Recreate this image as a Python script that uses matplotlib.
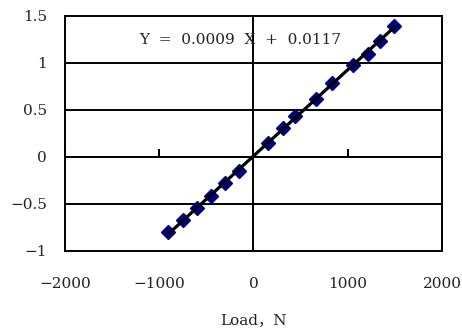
import numpy as np
import matplotlib.pyplot as plt

# load (N) and reading, picked off the chart
load = [-905, -750, -595, -450, -300, -150, 155, 315, 440, 665, 830, 1052, 1210, 1340, 1490]
reading = [-0.80, -0.67, -0.546, -0.41, -0.28, -0.146, 0.146, 0.305, 0.44, 0.62, 0.79, 0.975, 1.10, 1.23, 1.39]
x_ticks = [-2000, -1000, 0, 1000, 2000]
y_ticks = [-1, -0.5, 0, 0.5, 1, 1.5]
y_labels = ['-1', '-0.5', '0', '0.5', '1', '1.5']
equation = 'Y  =  0.0009  X  +  0.0117'

plt.rcParams['font.family'] = ['DejaVu Serif', 'Noto Sans CJK SC']

fig = plt.figure(figsize=(4.62, 3.28), dpi=100)
ax = fig.add_axes([0.1407, 0.2348, 0.816, 0.7165])

# gridlines + axis through zero
for yv in y_ticks[1:-1]:
    ax.axhline(yv, color='black', lw=1.4, zorder=1)
ax.axvline(0, color='black', lw=1.4, zorder=1)

# data and linear trendline
ax.plot(load, reading, linestyle='none', marker='D', color='#000080',
        markersize=7, markeredgecolor='#000080', zorder=3)
k, b = np.polyfit(load, reading, 1)
xs = np.array([min(load), max(load)])
ax.plot(xs, k * xs + b, color='black', lw=2.3, zorder=4)

ax.set_xlim(-2000, 2000)
ax.set_ylim(-1, 1.5)
ax.set_xticks(x_ticks)
ax.set_xticklabels([str(v).replace('-', '−') for v in x_ticks], fontsize=11, color='#222222')
ax.set_yticks(y_ticks)
ax.set_yticklabels([l.replace('-', '−') for l in y_labels], fontsize=11, color='#222222')
ax.tick_params(axis='x', length=0, pad=19)
ax.tick_params(axis='y', length=0, pad=13)
for s in ax.spines.values():
    s.set_linewidth(1.4)

# tick marks sit on the y=0 line, pointing up
sec = ax.secondary_xaxis(0.4)
sec.set_xticks(x_ticks)
sec.tick_params(direction='in', length=6, width=1.4, labelbottom=False)
sec.spines['bottom'].set_linewidth(1.4)

ax.text(0.464, 0.898, equation, transform=ax.transAxes, ha='center', va='center',
        fontsize=11, color='#222222')
ax.set_xlabel('Load，N', fontsize=11, labelpad=16, color='#222222')

plt.savefig('out.png', dpi=100)
